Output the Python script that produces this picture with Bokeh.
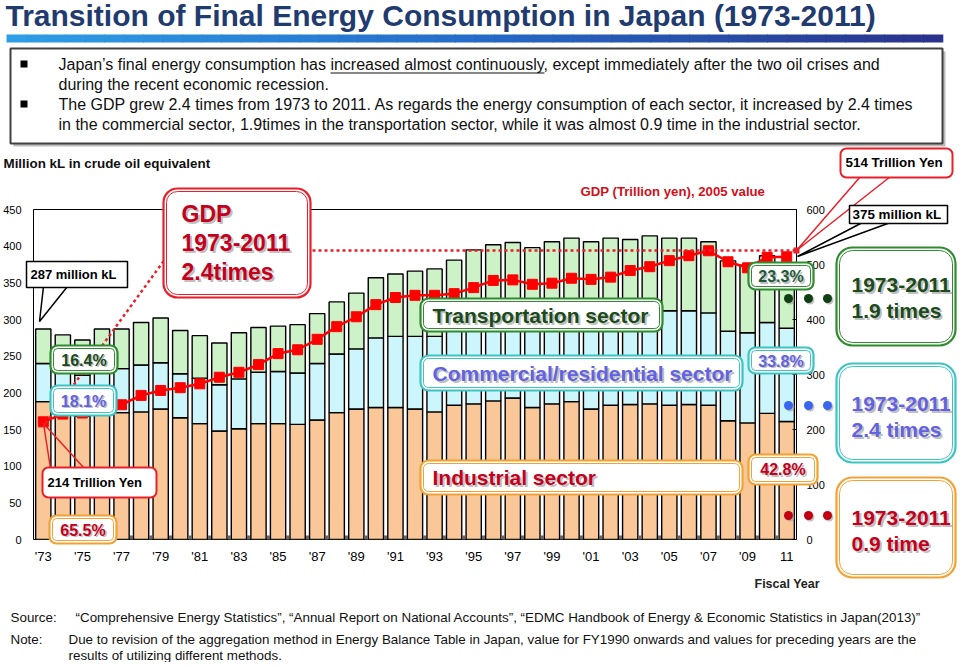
from bokeh.plotting import figure
from bokeh.models import (ColumnDataSource, LinearAxis, Range1d, FixedTicker,
                          Label, BoxAnnotation, PolyAnnotation, Arrow)
from bokeh.embed import file_html
from bokeh.resources import INLINE

# ---------------- data ----------------
years = list(range(1973, 2012))
industrial = [188, 180, 168, 175, 173, 174, 178, 166, 158, 148, 151, 158, 158, 157, 163, 173, 178,
              180, 180, 178, 174, 183, 185, 189, 193, 180, 185, 188, 178, 183, 184, 185, 183, 184,
              183, 162, 159, 172, 161]
commercial = [52, 52, 56, 59, 60, 64, 63, 60, 62, 63, 68, 70, 71, 70, 77, 80, 82,
              95, 97, 99, 103, 104, 112, 113, 111, 116, 118, 120, 125, 126, 124, 128, 129, 128,
              126, 122, 123, 124, 127]
transport = [47, 47, 48, 53, 54, 58, 61, 59, 58, 57, 63, 61, 62, 66, 68, 71, 76,
             82, 85, 89, 92, 94, 98, 100, 101, 102, 103, 103, 103, 102, 101, 101, 99, 99,
             97, 96, 92, 91, 87]
gdp = [214, 228, 230, 237, 245, 262, 271, 276, 283, 295, 304, 318, 338, 345, 364, 387, 405,
       427, 440, 444, 444, 447, 458, 471, 472, 464, 466, 475, 473, 477, 489, 496, 507, 516,
       525, 505, 494, 513, 514]
tick_years = list(range(1973, 2012, 2))
tick_labels = ["'73", "'75", "'77", "'79", "'81", "'83", "'85", "'87", "'89", "'91", "'93",
               "'95", "'97", "'99", "'01", "'03", "'05", "'07", "'09", "11"]
left_ticks = [0, 50, 100, 150, 200, 250, 300, 350, 400, 450]
right_ticks = [0, 100, 200, 300, 400, 500, 600]
sectors = ["industrial", "commercial", "transport"]
sector_colors = ["#FAC898", "#CCF6FB", "#CDF2C8"]

# ---------------- geometry (page pixels) ----------------
W, H = 958, 662
FL, FR, FT, FB = 31, 796, 209, 539
FONT = "Liberation Sans"

# ======== chart figure (bars, GDP line, axes) ========
p = figure(width=W, height=H, x_range=Range1d(1972.5, 2011.5), y_range=Range1d(0, 450),
           output_backend="svg", toolbar_location=None,
           min_border_left=FL, min_border_right=W - FR,
           min_border_top=FT, min_border_bottom=H - FB)
p.xgrid.visible = False
p.ygrid.visible = False
p.outline_line_color = "black"
p.outline_line_width = 1
p.background_fill_color = "white"
p.border_fill_color = "white"

src = ColumnDataSource(dict(year=years, industrial=industrial, commercial=commercial,
                            transport=transport, gdp=gdp))
p.vbar_stack(sectors, x="year", width=0.78, fill_color=sector_colors, line_color="black",
             line_width=1.4, source=src)

p.extra_y_ranges = {"gdp": Range1d(0, 600)}
p.line("year", "gdp", y_range_name="gdp", line_color="#FF0000", line_width=2.5, source=src)
p.scatter("year", "gdp", y_range_name="gdp", marker="square", size=10, fill_color="#FF0000",
          line_color="#FF0000", source=src)

yax = p.yaxis[0]
yax.ticker = FixedTicker(ticks=left_ticks)
yax.major_label_text_font = FONT
yax.major_label_text_font_size = "11px"
yax.major_label_text_color = "black"
yax.major_tick_out = 0
yax.major_tick_in = 0
yax.minor_tick_out = 0
yax.minor_tick_in = 0
yax.axis_line_color = None
yax.major_label_standoff = 12

rax = LinearAxis(y_range_name="gdp", ticker=FixedTicker(ticks=right_ticks))
rax.major_label_text_font = FONT
rax.major_label_text_font_size = "11px"
rax.major_label_text_color = "black"
rax.major_tick_out = 0
rax.major_tick_in = 4
rax.minor_tick_out = 0
rax.minor_tick_in = 0
rax.axis_line_color = None
rax.major_label_standoff = 10
p.add_layout(rax, "right")

xax = p.xaxis[0]
xax.ticker = FixedTicker(ticks=tick_years, minor_ticks=[y + 0.5 for y in years[:-1]])
xax.major_label_overrides = {y: t for y, t in zip(tick_years, tick_labels)}
xax.major_label_text_font = FONT
xax.major_label_text_font_size = "13px"
xax.major_label_text_color = "black"
xax.major_tick_out = 0
xax.major_tick_in = 0
xax.minor_tick_out = 0
xax.minor_tick_in = 4
xax.minor_tick_line_color = "#666666"
xax.minor_tick_line_width = 3
xax.axis_line_color = None
xax.major_label_standoff = 9

# ======== transparent overlay figure for the slide's texts and callouts ========
q = figure(width=W, height=H, x_range=Range1d(0, W), y_range=Range1d(H, 0),
           output_backend="svg", toolbar_location=None, x_axis_type=None, y_axis_type=None,
           min_border=0, min_border_left=0, min_border_right=0, min_border_top=0,
           min_border_bottom=0)
try:
    q.title = None
except Exception:
    q.title.text = ""
q.background_fill_alpha = 0
q.border_fill_alpha = 0
q.outline_line_color = None
q.styles = {"position": "absolute", "left": "0px", "top": "0px", "z-index": "5"}


def box(x0, y0, x1, y1, color, lw=2.0, radius=0, fill="white", falpha=1.0):
    q.add_layout(BoxAnnotation(left=x0, right=x1, top=y0, bottom=y1,
                               fill_color=fill, fill_alpha=falpha if fill else 0.0,
                               line_color=color, line_alpha=1.0 if color else 0.0,
                               line_width=lw, border_radius=int(round(radius))))


def dbox(x0, y0, x1, y1, color, radius=8):
    box(x0, y0, x1, y1, color, lw=2.2, radius=radius)
    box(x0 + 3, y0 + 3, x1 - 3, y1 - 3, color, lw=1.0, radius=max(radius - 3, 0),
        fill=None)


def lab(px, py, text, size=13, color="black", bold=True, align="left", shadow=0):
    style = "bold" if bold else "normal"
    if shadow:
        q.add_layout(Label(x=px + shadow, y=py + shadow, text=text, text_font=FONT,
                           text_font_size=f"{size}px", text_font_style=style,
                           text_color="#8a8a8a", text_alpha=0.55, text_align=align,
                           text_baseline="middle"))
    q.add_layout(Label(x=px, y=py, text=text, text_font=FONT, text_font_size=f"{size}px",
                       text_font_style=style, text_color=color, text_align=align,
                       text_baseline="middle"))


def seg(x0, y0, x1, y1, color, lw=1.5, dash="solid"):
    q.add_layout(Arrow(end=None, x_start=x0, y_start=y0, x_end=x1, y_end=y1,
                       line_color=color, line_width=lw, line_dash=dash))


def poly(pts, color, fill="white", lw=1.5):
    q.add_layout(PolyAnnotation(xs=[a for a, b in pts], ys=[b for a, b in pts],
                                fill_color=fill, fill_alpha=1.0 if fill else 0.0,
                                line_color=color, line_alpha=1.0, line_width=lw))


def dot(cx, cy, color):
    box(cx - 3, cy - 3, cx + 6, cy + 6, None, lw=0, radius=5, fill="#9a9a9a", falpha=0.6)
    box(cx - 4.5, cy - 4.5, cx + 4.5, cy + 4.5, None, lw=0, radius=5, fill=color)


RED, GREEN, TEAL, ORANGE = "#E8202A", "#2E8B2E", "#3CC4C4", "#F2A234"
TXT_GREEN, TXT_BLUE, TXT_RED = "#1B4A1B", "#6262E2", "#C4001C"

# ---------------- header ----------------
lab(5, 15, "Transition of Final Energy Consumption in Japan (1973-2011)", size=30,
    color="#1F3B70")
n_seg = 48
x_a, x_b = 6, 942
stops = [(0x2E, 0x9E, 0xE6), (0x25, 0x6C, 0xC8), (0x2A, 0x33, 0x8C)]
for i in range(n_seg):
    t = i / (n_seg - 1)
    if t < 0.5:
        c0, c1, u = stops[0], stops[1], t / 0.5
    else:
        c0, c1, u = stops[1], stops[2], (t - 0.5) / 0.5
    col = "#%02x%02x%02x" % tuple(int(c0[k] + (c1[k] - c0[k]) * u) for k in range(3))
    xa = x_a + (x_b - x_a) * i / n_seg
    xb = x_a + (x_b - x_a) * (i + 1) / n_seg + 0.8
    box(xa, 34, xb, 42, None, lw=0, fill=col)

box(13, 51, 945, 146, None, lw=0, fill="#a0a0a0", falpha=0.7)
box(10, 48, 942, 143, "#404040", lw=2)
box(20, 60, 27, 67, None, lw=0, fill="black")
box(20, 100, 27, 107, None, lw=0, fill="black")
body = 16
lab(58, 64, "Japan\u2019s final energy consumption has increased almost continuously, except "
    "immediately after the two oil crises and", size=body, bold=False, color="#111111")
lab(58, 84, "during the recent economic recession.", size=body, bold=False, color="#111111")
lab(58, 104, "The GDP grew 2.4 times from 1973 to 2011. As regards the energy consumption of "
    "each sector, it increased by 2.4 times", size=body, bold=False, color="#111111")
lab(58, 124, "in the commercial sector, 1.9times in the transportation sector, while it was "
    "almost 0.9 time in the industrial sector.", size=body, bold=False, color="#111111")
seg(330, 72.5, 544, 72.5, "#111111", lw=1)

# ---------------- axis titles ----------------
lab(3, 163, "Million kL in crude oil equivalent", size=13.4, color="#111111")
lab(580, 191, "GDP (Trillion yen), 2005 value", size=13.2, color="#D0101A")
lab(754, 583, "Fiscal Year", size=12.5, color="#222222")

# ---------------- dotted guides ----------------
seg(45, 423, 165, 258, "#E8202A", lw=2.5, dash="3 3")
seg(312, 250, 796, 250, "#E8202A", lw=2.5, dash="3 3")

# ---------------- callouts ----------------
poly([(43, 286), (67, 286), (39, 321)], "black", fill="white", lw=1.5)
box(26, 261, 127, 287, "black", lw=1.5)
lab(30, 274, "287 million kL", size=13)

seg(43, 423, 50, 468, RED, lw=1.5)
seg(43, 423, 84, 468, RED, lw=1.5)
box(42, 467, 156, 497, RED, lw=2, radius=6)
lab(47, 482, "214 Trillion Yen", size=13)

poly([(860, 176), (890, 176), (796, 250)], RED, fill="white", lw=1.5)
box(840, 148, 952, 177, RED, lw=2, radius=6)
lab(845, 162, "514 Trillion Yen", size=13.4)
poly([(862, 222), (890, 222), (797, 256)], "black", fill="white", lw=1.5)
box(849, 205, 947, 223, "black", lw=1.5)
lab(852, 214, "375 million kL", size=13.4)
box(793, 247, 799, 253, None, lw=0, fill=RED)

dbox(163, 188, 310, 297, RED, radius=14)
lab(181, 213, "GDP", size=23, color=TXT_RED, shadow=2)
lab(181, 242, "1973-2011", size=23, color=TXT_RED, shadow=2)
lab(181, 271, "2.4times", size=23, color=TXT_RED, shadow=2)

dbox(50, 345, 117, 373, GREEN, radius=7)
lab(83.5, 359.5, "16.4%", size=16, color=TXT_GREEN, align="center", shadow=1.5)
dbox(50, 385, 116, 415, TEAL, radius=7)
lab(83, 400.5, "18.1%", size=16, color=TXT_BLUE, align="center", shadow=1.5)
dbox(49, 515, 116, 543, ORANGE, radius=7)
lab(82.5, 529.5, "65.5%", size=16, color=TXT_RED, align="center", shadow=1.5)

dbox(420, 298, 662, 331, GREEN, radius=8)
lab(432, 315, "Transportation sector", size=21, color=TXT_GREEN, shadow=2)
dbox(420, 355, 742, 390, TEAL, radius=8)
lab(432, 373, "Commercial/residential sector", size=21, color=TXT_BLUE, shadow=2)
dbox(420, 460, 742, 494, ORANGE, radius=8)
lab(432, 477, "Industrial sector", size=21, color=TXT_RED, shadow=2)

dbox(748, 262, 813, 289, GREEN, radius=7)
lab(780.5, 276, "23.3%", size=16, color="#1E5A3A", align="center", shadow=1.5)
dbox(748, 347, 813, 373, TEAL, radius=7)
lab(780.5, 360.5, "33.8%", size=16, color=TXT_BLUE, align="center", shadow=1.5)
dbox(748, 454, 817, 484, ORANGE, radius=7)
lab(782.5, 469, "42.8%", size=16, color=TXT_RED, align="center", shadow=1.5)

for cx in (788, 808, 827):
    dot(cx, 298, "#0F3F12")
    dot(cx, 405, "#3A66EE")
    dot(cx, 515, "#C00012")

dbox(836, 247, 955, 345, GREEN, radius=16)
lab(851, 284, "1973-2011", size=21, color=TXT_GREEN, shadow=2)
lab(851, 310, "1.9 times", size=21, color=TXT_GREEN, shadow=2)
dbox(836, 363, 955, 462, TEAL, radius=16)
lab(851, 403, "1973-2011", size=21, color=TXT_BLUE, shadow=2)
lab(851, 429, "2.4 times", size=21, color=TXT_BLUE, shadow=2)
dbox(836, 477, 955, 577, ORANGE, radius=16)
lab(851, 517, "1973-2011", size=21, color=TXT_RED, shadow=2)
lab(851, 543, "0.9 time", size=21, color=TXT_RED, shadow=2)

# ---------------- footer ----------------
foot = 13.4
lab(10, 617, "Source:", size=foot, bold=False, color="#111111")
lab(75, 617, "\u201cComprehensive Energy Statistics\u201d, \u201cAnnual Report on National "
    "Accounts\u201d, \u201cEDMC Handbook of Energy & Economic Statistics in Japan(2013)\u201d",
    size=foot, bold=False, color="#111111")
lab(10, 639, "Note:", size=foot, bold=False, color="#111111")
lab(68, 639, "Due to revision of the aggregation method in Energy Balance Table in Japan, value "
    "for FY1990 onwards and values for preceding years are the", size=foot, bold=False,
    color="#111111")
lab(68, 655, "results of utilizing different methods.", size=foot, bold=False, color="#111111")

open("out.html", "w").write(file_html([p, q], INLINE))
